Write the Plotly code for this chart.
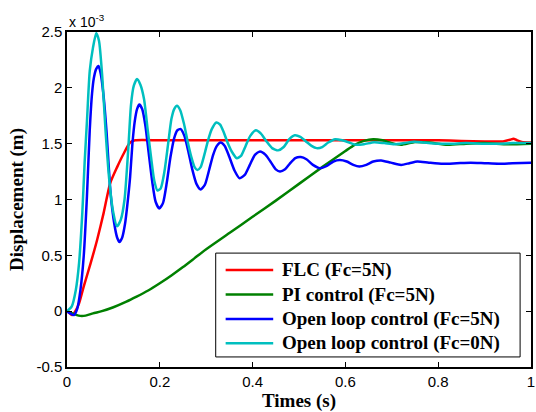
import plotly.graph_objects as go

# Displacement responses, time in s, displacement in units of 1e-3 m
t_flc = [0, 0.006, 0.011, 0.018, 0.026, 0.036, 0.051, 0.065, 0.079, 0.093, 0.108,
         0.122, 0.136, 0.147, 0.2, 0.3, 0.4, 0.5, 0.6, 0.7, 0.8, 0.85, 0.9, 0.94,
         0.955, 0.962, 0.97, 0.98, 1.0]
d_flc = [0, -0.02, -0.035, 0.0, 0.07, 0.22, 0.43, 0.64, 0.88, 1.145, 1.29,
         1.41, 1.51, 1.53, 1.53, 1.53, 1.53, 1.53, 1.53, 1.53, 1.53, 1.525, 1.52, 1.52,
         1.535, 1.545, 1.53, 1.515, 1.51]

t_pi = [0, 0.012, 0.025, 0.04, 0.056, 0.075, 0.1, 0.128, 0.15, 0.175, 0.2, 0.225,
        0.25, 0.275, 0.3, 0.35, 0.4, 0.45, 0.5, 0.55, 0.6, 0.62, 0.64, 0.66, 0.68,
        0.7, 0.72, 0.75, 0.78, 0.82, 0.86, 0.9, 0.95, 1.0]
d_pi = [0, -0.02, -0.04, -0.04, -0.02, 0.0, 0.035, 0.085, 0.13, 0.185, 0.25, 0.32,
        0.395, 0.475, 0.555, 0.70, 0.845, 0.99, 1.14, 1.29, 1.435, 1.49, 1.525, 1.54, 1.53,
        1.505, 1.49, 1.515, 1.51, 1.49, 1.50, 1.505, 1.495, 1.50]

t_ol5 = [0, 0.007, 0.015, 0.022, 0.029, 0.036, 0.043, 0.049, 0.054, 0.058, 0.063,
         0.068, 0.073, 0.079, 0.085, 0.094, 0.102, 0.108, 0.113, 0.119, 0.125, 0.13,
         0.136, 0.141, 0.146, 0.151, 0.156, 0.162, 0.169, 0.176, 0.184, 0.191, 0.199,
         0.207, 0.215, 0.223, 0.231, 0.238, 0.245, 0.253, 0.261, 0.27, 0.279, 0.288,
         0.297, 0.306, 0.315, 0.323, 0.331, 0.34, 0.35, 0.361, 0.372, 0.383, 0.394,
         0.405, 0.416, 0.428, 0.44, 0.45, 0.459, 0.47, 0.48, 0.492, 0.504, 0.516,
         0.53, 0.545, 0.56, 0.574, 0.588, 0.603, 0.617, 0.63, 0.645, 0.66, 0.677,
         0.698, 0.72, 0.738, 0.755, 0.78, 0.81, 0.84, 0.87, 0.9, 0.93, 0.96, 1.0]
d_ol5 = [0, -0.02, -0.035, 0.02, 0.19, 0.49, 1.03, 1.62, 1.95, 2.09, 2.17,
         2.195, 2.12, 1.92, 1.62, 1.05, 0.78, 0.66, 0.62, 0.66, 0.78, 0.95,
         1.2, 1.5, 1.70, 1.81, 1.85, 1.81, 1.66, 1.42, 1.15, 0.98, 0.92,
         0.97, 1.15, 1.38, 1.55, 1.62, 1.63, 1.57, 1.44, 1.27, 1.14, 1.09,
         1.13, 1.26, 1.40, 1.48, 1.51, 1.48, 1.38, 1.26, 1.19, 1.22, 1.31,
         1.40, 1.43, 1.40, 1.33, 1.27, 1.25, 1.27, 1.32, 1.37, 1.38, 1.36,
         1.31, 1.28, 1.30, 1.34, 1.354, 1.34, 1.31, 1.295, 1.31, 1.34, 1.35,
         1.33, 1.31, 1.325, 1.34, 1.33, 1.32, 1.325, 1.33, 1.325, 1.32, 1.325, 1.33]

t_ol0 = [0, 0.01, 0.019, 0.026, 0.033, 0.038, 0.043, 0.049, 0.056, 0.063, 0.069,
         0.076, 0.083, 0.091, 0.099, 0.108, 0.116, 0.124, 0.132, 0.138, 0.144, 0.151,
         0.158, 0.166, 0.174, 0.182, 0.188, 0.195, 0.202, 0.21, 0.218, 0.225, 0.231,
         0.237, 0.244, 0.252, 0.26, 0.268, 0.275, 0.281, 0.288, 0.296, 0.304, 0.312,
         0.322, 0.33, 0.338, 0.346, 0.355, 0.366, 0.375, 0.385, 0.395, 0.407, 0.418,
         0.43, 0.442, 0.455, 0.467, 0.479, 0.491, 0.503, 0.515, 0.527, 0.538, 0.55,
         0.563, 0.578, 0.593, 0.608, 0.623, 0.64, 0.662, 0.684, 0.705, 0.727, 0.748,
         0.77, 0.8, 0.83, 0.86, 0.9, 0.93, 0.96, 1.0]
d_ol0 = [0, 0.04, 0.19, 0.43, 0.88, 1.33, 1.70, 2.15, 2.36, 2.49, 2.42,
         2.10, 1.62, 1.18, 0.90, 0.76, 0.82, 1.0, 1.45, 1.85, 2.02, 2.08,
         2.03, 1.90, 1.62, 1.35, 1.17, 1.08, 1.10, 1.25, 1.5, 1.72, 1.81,
         1.84, 1.80, 1.68, 1.52, 1.38, 1.29, 1.265, 1.29, 1.40, 1.53, 1.63,
         1.69, 1.67, 1.60, 1.51, 1.43, 1.37, 1.39, 1.48, 1.57, 1.62, 1.59,
         1.52, 1.46, 1.44, 1.47, 1.54, 1.575, 1.56, 1.52, 1.48, 1.46, 1.47,
         1.51, 1.54, 1.53, 1.51, 1.49, 1.495, 1.513, 1.505, 1.495, 1.505, 1.518,
         1.51, 1.5, 1.5, 1.505, 1.5, 1.5, 1.505, 1.505]

x_ticks = [0, 0.2, 0.4, 0.6, 0.8, 1]
x_labels = ["0", "0.2", "0.4", "0.6", "0.8", "1"]
y_ticks = [-0.5, 0, 0.5, 1, 1.5, 2, 2.5]
y_labels = ["-0.5", "0", "0.5", "1", "1.5", "2", "2.5"]

series = [
    ("FLC (Fc=5N)", t_flc, d_flc, "#FF0000"),
    ("PI control (Fc=5N)", t_pi, d_pi, "#008000"),
    ("Open loop control (Fc=5N)", t_ol5, d_ol5, "#0000FF"),
    ("Open loop control (Fc=0N)", t_ol0, d_ol0, "#00BFBF"),
]

serif = "Times New Roman, Liberation Serif, serif"
sans = "Arial, Liberation Sans, sans-serif"

fig = go.Figure()
for name, t, d, color in series:
    fig.add_trace(go.Scatter(
        x=t, y=d, name=name, mode="lines", showlegend=False,
        line=dict(color=color, width=2.5, shape="spline", smoothing=0.6),
    ))

axis_common = dict(
    showline=True, linecolor="black", linewidth=1.5, mirror="ticks",
    ticks="inside", ticklen=5, tickcolor="black", tickwidth=1,
    showgrid=False, zeroline=False, ticklabeloverflow="allow",
    tickfont=dict(family=sans, size=15, color="black"),
)

fig.update_xaxes(
    range=[0, 1], tickvals=x_ticks, ticktext=x_labels,
    title=dict(text="Times (s)", font=dict(family=serif, size=19, color="black", weight="bold"),
               standoff=8),
    **axis_common,
)
fig.update_yaxes(
    range=[-0.5, 2.5], tickvals=y_ticks, ticktext=y_labels,
    title=dict(text="Displacement (m)", font=dict(family=serif, size=19, color="black", weight="bold"),
               standoff=8),
    **axis_common,
)

fig.add_annotation(
    text="x 10<sup>-3</sup>", xref="paper", yref="paper", x=0, y=1,
    xanchor="left", yanchor="bottom", showarrow=False,
    font=dict(family=sans, size=14, color="black"),
)

# Legend box with a line sample and label per series
box_x0, box_x1, box_y0, box_y1 = 0.3205, 0.9765, 0.030, 0.340
sample_x0, sample_x1, label_x = 0.3419, 0.4444, 0.4600
entry_y = [0.2896, 0.2164, 0.1433, 0.0707]

fig.add_shape(type="rect", xref="paper", yref="paper",
              x0=box_x0, x1=box_x1, y0=box_y0, y1=box_y1,
              line=dict(color="black", width=1), fillcolor="white", layer="above")
for (name, _, _, color), y in zip(series, entry_y):
    fig.add_shape(type="line", xref="paper", yref="paper",
                  x0=sample_x0, x1=sample_x1, y0=y, y1=y,
                  line=dict(color=color, width=2.5), layer="above")
    fig.add_annotation(
        text=name, xref="paper", yref="paper", x=label_x, y=y,
        xanchor="left", yanchor="middle", showarrow=False,
        font=dict(family=serif, size=19, color="black", weight="bold"),
    )

fig.update_layout(
    width=536, height=412,
    margin=dict(l=67, r=1, t=32, b=45),
    plot_bgcolor="white", paper_bgcolor="white",
)

fig.write_html("out.html")
